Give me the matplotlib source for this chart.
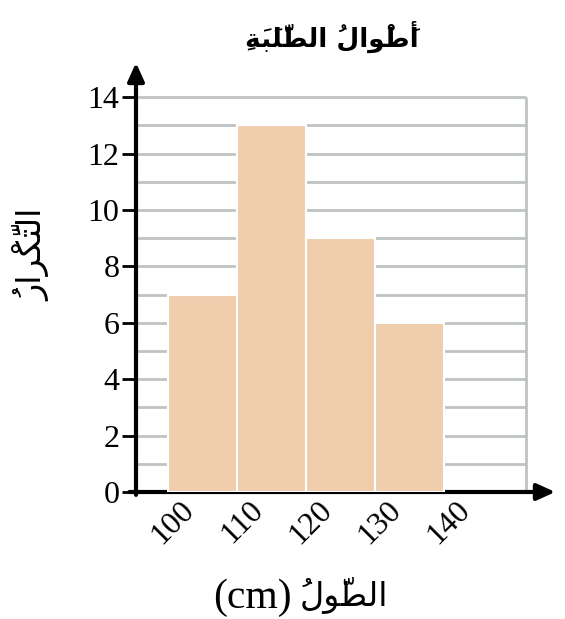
import matplotlib
matplotlib.use("Agg")
import matplotlib.pyplot as plt
from matplotlib.transforms import ScaledTranslation

# data
edges = [100, 110, 120, 130, 140]
freq = [7, 13, 9, 6]
yticks = [0, 2, 4, 6, 8, 10, 12, 14]
tick_labels = ["100", "110", "120", "130", "140"]

title_txt = "أَطْوالُ الطَّلَبَةِ"
ylabel_txt = "التَّكْرارُ"
xlabel_ar = "الطّولُ"
xlabel_unit = "(cm)"

# --- tiny arabic shaper (matplotlib has no shaping / bidi) ---
FORMS = {  # isolated, final, initial, medial
    "\u0627": ("\uFE8D", "\uFE8E", None, None),
    "\u0623": ("\uFE83", "\uFE84", None, None),
    "\u0648": ("\uFEED", "\uFEEE", None, None),
    "\u0631": ("\uFEAD", "\uFEAE", None, None),
    "\u0629": ("\uFE93", "\uFE94", None, None),
    "\u0637": ("\uFEC1", "\uFEC2", "\uFEC3", "\uFEC4"),
    "\u0644": ("\uFEDD", "\uFEDE", "\uFEDF", "\uFEE0"),
    "\u0628": ("\uFE8F", "\uFE90", "\uFE91", "\uFE92"),
    "\u062A": ("\uFE95", "\uFE96", "\uFE97", "\uFE98"),
    "\u0643": ("\uFED9", "\uFEDA", "\uFEDB", "\uFEDC"),
}
MARKS = "\u064E\u064F\u0650\u0651\u0652"


def shape(text):
    out = []
    for word in text.split(" "):
        cl = []
        for ch in word:
            if ch in MARKS and cl:
                cl[-1][1] += ch
            else:
                cl.append([ch, ""])
        glyphs = []
        for i, (ch, mk) in enumerate(cl):
            if ch not in FORMS:
                glyphs.append(mk + ch)
                continue
            iso, fin, ini, med = FORMS[ch]
            prev = cl[i - 1][0] if i > 0 else None
            nxt = cl[i + 1][0] if i < len(cl) - 1 else None
            jp = prev in FORMS and FORMS[prev][2] is not None
            jn = ini is not None and nxt in FORMS
            g = med if (jp and jn) else fin if jp else ini if jn else iso
            glyphs.append(mk + g)  # zero-width marks go before their base
        out.append("".join(reversed(glyphs)))
    return " ".join(reversed(out))


fig = plt.figure(figsize=(5.65, 6.19), dpi=100)
W, H = 565, 619
ax = fig.add_axes([136 / W, (H - 492) / H, (558 - 136) / W, (492 - 60) / H])
ax.set_xlim(95.36, 156.5)
ax.set_ylim(0, 15.32)
for s in ax.spines.values():
    s.set_visible(False)

grid_c = "#bfc4c2"
right_x = 151.9
ax.hlines(range(1, 15), 95.36, right_x, color=grid_c, lw=2, zorder=1)
ax.vlines(right_x, 0, 14, color=grid_c, lw=2, zorder=1)

# axes with arrow heads
ax.annotate("", xy=(156.5, 0), xytext=(94.0, 0),
            arrowprops=dict(arrowstyle="-|>,head_length=1.1,head_width=0.5",
                            color="black", lw=3), annotation_clip=False, zorder=2)
ax.annotate("", xy=(95.36, 15.32), xytext=(95.36, -0.2),
            arrowprops=dict(arrowstyle="-|>,head_length=1.1,head_width=0.5",
                            color="black", lw=3), annotation_clip=False, zorder=2)

widths = [edges[i + 1] - edges[i] for i in range(len(freq))]
ax.bar(edges[:-1], freq, width=widths, align="edge", color="#efcdad",
       edgecolor="white", linewidth=1.5, zorder=3)

ax.set_yticks(yticks)
ax.set_yticklabels([str(v) for v in yticks], family="Liberation Serif", fontsize=23)
ax.tick_params(axis="y", length=10, width=2, color="black", pad=2)
ax.set_xticks([])

off = ScaledTranslation(22 / 100, -14 / 100, fig.dpi_scale_trans)
for x, lab in zip(edges, tick_labels):
    ax.text(x, 0, lab, transform=ax.get_xaxis_transform() + off,
            rotation=45, rotation_mode="anchor", ha="right", va="center",
            family="Liberation Serif", fontsize=23)

fig.text(332 / W, 1 - 37 / H, shape(title_txt), ha="center", va="center",
         family="DejaVu Sans", fontweight="bold", fontsize=19)
fig.text(32 / W, 1 - 255 / H, shape(ylabel_txt), ha="center", va="center",
         rotation=90, family="DejaVu Sans", fontsize=24)
fig.text(292 / W, 1 - 598 / H, xlabel_unit, ha="right", va="center",
         family="Liberation Serif", fontsize=30)
fig.text(300 / W, 1 - 596 / H, shape(xlabel_ar), ha="left", va="center",
         family="DejaVu Sans", fontsize=24)

fig.savefig("out.png", dpi=100)
